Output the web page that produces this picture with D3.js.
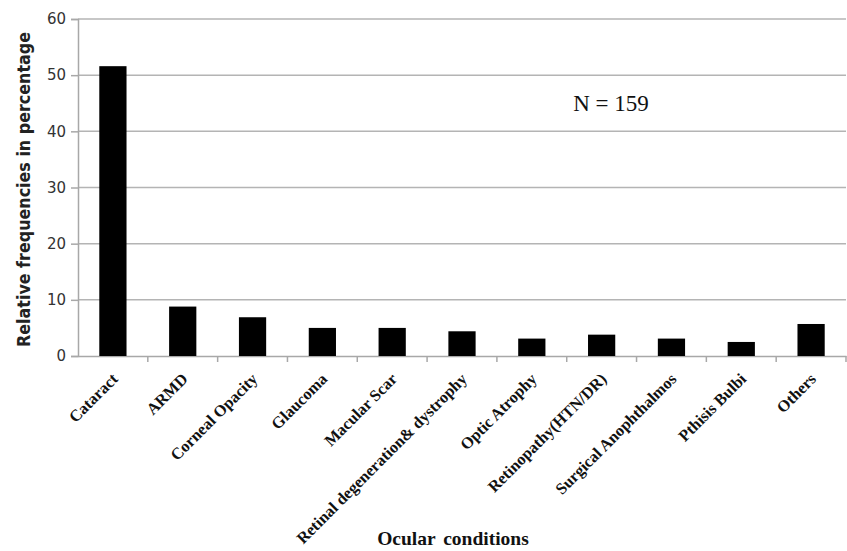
<!DOCTYPE html>
<html><head><meta charset="utf-8">
<script src="https://cdn.jsdelivr.net/npm/d3@7"></script>
<style>body{margin:0;background:#fff}svg{display:block}</style>
</head><body>
<script>
const categories = ["Cataract","ARMD","Corneal Opacity","Glaucoma","Macular Scar","Retinal degeneration& dystrophy","Optic Atrophy","Retinopathy(HTN/DR)","Surgical Anophthalmos","Pthisis Bulbi","Others"];
const values = [51.6, 8.8, 6.9, 5.0, 5.0, 4.4, 3.1, 3.8, 3.1, 2.5, 5.7];
const yTicks = [0,10,20,30,40,50,60];

const W = 847, H = 551;
const mLeft = 78, mRight = 846, mTop = 19, mBottom = 356;
const svg = d3.select("body").append("svg").attr("width", W).attr("height", H);

const x = d3.scaleBand().domain(categories).range([mLeft, mRight]).padding(0);
const y = d3.scaleLinear().domain([0, 60]).range([mBottom, mTop]);

// gridlines
svg.append("g").selectAll("line").data(yTicks.filter(d => d > 0)).join("line")
  .attr("x1", mLeft).attr("x2", mRight)
  .attr("y1", d => y(d)).attr("y2", d => y(d))
  .attr("stroke", "#b4b4b4").attr("stroke-width", 1.5);

// y axis
const ya = svg.append("g").attr("transform", `translate(${mLeft},0)`)
  .call(d3.axisLeft(y).tickValues(yTicks).tickSize(7).tickPadding(5));
ya.select(".domain").attr("stroke", "#a8a8a8").attr("stroke-width", 1.5);
ya.selectAll(".tick line").attr("stroke", "#a8a8a8").attr("stroke-width", 1.5);
ya.selectAll(".tick text").attr("font-family", "'DejaVu Sans', sans-serif").attr("font-size", 15).attr("fill", "#333");

// x axis
const xa = svg.append("g").attr("transform", `translate(0,${mBottom})`)
  .call(d3.axisBottom(x).tickSize(0).tickFormat(""));
xa.select(".domain").attr("stroke", "#a8a8a8").attr("stroke-width", 1.5);
xa.selectAll(".tick").remove();
svg.append("g").selectAll("line").data(categories).join("line")
  .attr("x1", d => x(d) + x.bandwidth()).attr("x2", d => x(d) + x.bandwidth())
  .attr("y1", mBottom).attr("y2", mBottom + 6)
  .attr("stroke", "#a8a8a8").attr("stroke-width", 1.5);

// bars
const bw = x.bandwidth() * 0.39;
svg.append("g").selectAll("rect").data(values).join("rect")
  .attr("x", (d, i) => x(categories[i]) + x.bandwidth() / 2 - bw / 2)
  .attr("y", d => y(d))
  .attr("width", bw)
  .attr("height", d => y(0) - y(d))
  .attr("fill", "#000");

// x labels
svg.append("g").selectAll("text").data(categories).join("text")
  .attr("transform", d => `translate(${x(d) + x.bandwidth() / 2 + 6},${mBottom + 24}) rotate(-45)`)
  .attr("text-anchor", "end")
  .attr("font-family", "'Liberation Serif', 'Times New Roman', serif")
  .attr("font-weight", "bold")
  .attr("font-size", 16.3)
  .attr("fill", "#111")
  .text(d => d);

// axis titles
svg.append("text")
  .attr("transform", `translate(30,189.5) rotate(-90)`)
  .attr("text-anchor", "middle")
  .attr("font-family", "'DejaVu Sans', sans-serif")
  .attr("font-weight", "bold").attr("font-size", 17).attr("fill", "#222")
  .attr("textLength", 315).attr("lengthAdjust", "spacingAndGlyphs")
  .text("Relative frequencies in percentage");

svg.append("text")
  .attr("x", 453).attr("y", 545)
  .attr("text-anchor", "middle")
  .attr("font-family", "'Liberation Serif', 'Times New Roman', serif")
  .attr("font-weight", "bold").attr("font-size", 19.5).attr("fill", "#111")
  .style("word-spacing", "3px")
  .text("Ocular conditions");

svg.append("text")
  .attr("x", 611).attr("y", 110.5)
  .attr("text-anchor", "middle")
  .attr("font-family", "'Liberation Serif', 'Times New Roman', serif")
  .attr("font-size", 23).attr("fill", "#111")
  .text("N = 159");
</script>
</body></html>
